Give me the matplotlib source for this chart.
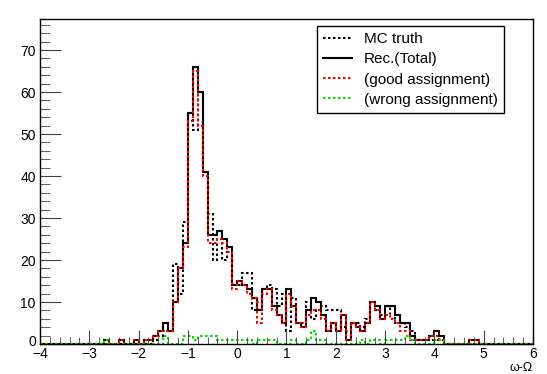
import numpy as np
import matplotlib
matplotlib.use("Agg")
import matplotlib.pyplot as plt
import matplotlib.transforms as mtransforms
from matplotlib.lines import Line2D

plt.rcParams['font.family'] = ['Liberation Sans', 'DejaVu Sans']

# histogram binning: 100 bins from -4 to 6
x_lo, x_hi, n_bins = -4.0, 6.0, 100

# bin contents, one row of 10 bins per unit of x (-4..-3, -3..-2, ...)
mc_truth = [
    0, 0, 0, 0, 0, 0, 0, 0, 0, 0,
    0, 0, 0, 0, 0, 0, 0, 0, 0, 0,
    0, 0, 0, 1, 2, 3, 3, 19, 12, 29,
    55, 51, 60, 41, 31, 20, 25, 20, 22, 14,
    14, 17, 17, 8, 10, 13, 14, 13, 9, 12,
    3, 11, 5, 5, 10, 6, 8, 9, 8, 8,
    8, 4, 3, 5, 5, 4, 6, 10, 8, 7,
    7, 9, 5, 5, 4, 3, 1, 1, 1, 1,
    1, 1, 0, 0, 0, 0, 0, 0, 0, 0,
    0, 0, 0, 0, 0, 0, 0, 0, 0, 0,
]
rec_total = [
    0, 0, 0, 0, 0, 0, 0, 0, 0, 0,
    0, 0, 0, 1, 0, 0, 1, 0, 0, 1,
    0, 1, 1, 2, 3, 5, 3, 10, 18, 24,
    55, 66, 60, 41, 26, 26, 27, 25, 23, 14,
    15, 14, 13, 11, 8, 13, 13, 9, 7, 5,
    13, 9, 5, 4, 8, 11, 10, 7, 3, 5,
    3, 7, 1, 5, 4, 3, 5, 10, 9, 6,
    9, 9, 7, 5, 5, 2, 1, 1, 1, 2,
    3, 2, 0, 0, 0, 0, 0, 1, 1, 0,
    0, 0, 0, 0, 0, 0, 0, 0, 0, 0,
]
good_assign = [
    0, 0, 0, 0, 0, 0, 0, 0, 0, 0,
    0, 0, 0, 0, 0, 0, 1, 0, 0, 1,
    0, 1, 1, 2, 3, 3, 3, 10, 18, 23,
    53, 65, 52, 40, 24, 24, 25, 24, 22, 13,
    15, 14, 12, 11, 5, 12, 13, 8, 7, 5,
    12, 9, 5, 4, 7, 8, 8, 6, 3, 5,
    3, 7, 1, 5, 4, 3, 5, 10, 8, 6,
    7, 6, 5, 3, 3, 1, 1, 1, 1, 2,
    2, 1, 0, 0, 0, 0, 0, 1, 1, 0,
    0, 0, 0, 0, 0, 0, 0, 0, 0, 0,
]
wrong_assign = [
    0, 0, 0, 0, 0, 0, 0, 0, 0, 0,
    0, 0, 0, 1, 0, 0, 0, 0, 0, 0,
    0, 0, 0, 0, 0, 2, 0, 0, 0, 2,
    2, 1, 2, 2, 2, 2, 1, 1, 1, 1,
    1, 1, 1, 0, 1, 1, 1, 1, 0, 0,
    0, 1, 0, 0, 1, 3, 1, 1, 0, 0,
    0, 0, 0, 0, 0, 1, 0, 1, 1, 0,
    1, 1, 1, 1, 2, 1, 0, 0, 0, 0,
    1, 1, 0, 0, 0, 0, 0, 0, 0, 0,
    0, 0, 0, 0, 0, 0, 0, 0, 0, 0,
]
labels = ["MC truth", "Rec.(Total)", "(good assignment)", "(wrong assignment)"]

edges = np.linspace(x_lo, x_hi, n_bins + 1)

fig = plt.figure(figsize=(5.47, 3.74), dpi=100)
ax = fig.add_axes([40/547, 1 - 344/374, (533 - 40)/547, (344 - 19)/374])

dot = (0, (1.2, 1.2))
ax.stairs(mc_truth, edges, color="black", lw=1.5, ls=dot, clip_on=False)
ax.stairs(rec_total, edges, color="black", lw=1.5, clip_on=False)
ax.stairs(good_assign, edges, color="red", lw=1.5, ls=dot, clip_on=False)
ax.stairs(wrong_assign, edges, color="#00dd00", lw=1.5, ls=dot, clip_on=False)

ax.set_xlim(x_lo, x_hi)
ax.set_ylim(0, 77.4)
ax.set_xticks(np.arange(-4, 7, 1))
ax.set_xticks(np.arange(-4, 6.01, 0.2), minor=True)
ax.set_yticks(np.arange(0, 71, 10))
ax.set_yticks(np.arange(0, 77, 2), minor=True)
ax.tick_params(axis="both", which="both", direction="in", top=False, right=False,
               labelsize=10, color="#444444")
ax.tick_params(axis="y", which="major", length=15, pad=3)
ax.tick_params(axis="y", which="minor", length=7)
ax.tick_params(axis="x", which="major", length=10, pad=2)
ax.tick_params(axis="x", which="minor", length=5)
for s in ax.spines.values():
    s.set_linewidth(1.0)

# lift the "0" label a little so it clears the "-4" below it
fig.canvas.draw()
zero_lab = ax.get_yticklabels()[0]
zero_lab.set_transform(zero_lab.get_transform() +
                       mtransforms.ScaledTranslation(0, 4/100, fig.dpi_scale_trans))

fig.text(533/547, 1 - 368/374, "ω-Ω", ha="right", va="center", fontsize=9)

handles = [
    Line2D([], [], color="black", lw=1.5, ls=dot),
    Line2D([], [], color="black", lw=1.5),
    Line2D([], [], color="red", lw=1.5, ls=dot),
    Line2D([], [], color="#00dd00", lw=1.5, ls=dot),
]
leg = ax.legend(handles, labels, loc="upper left",
                bbox_to_anchor=(317/547, 1 - 30/374, (504 - 317)/547, 0.01),
                bbox_transform=fig.transFigure, mode="expand", borderaxespad=0,
                fontsize=11, handlelength=1.9, handletextpad=0.75,
                labelspacing=0.4, borderpad=0.4, fancybox=False,
                framealpha=1, edgecolor="black")
leg.get_frame().set_linewidth(1.0)

fig.savefig("out.png", dpi=100)
